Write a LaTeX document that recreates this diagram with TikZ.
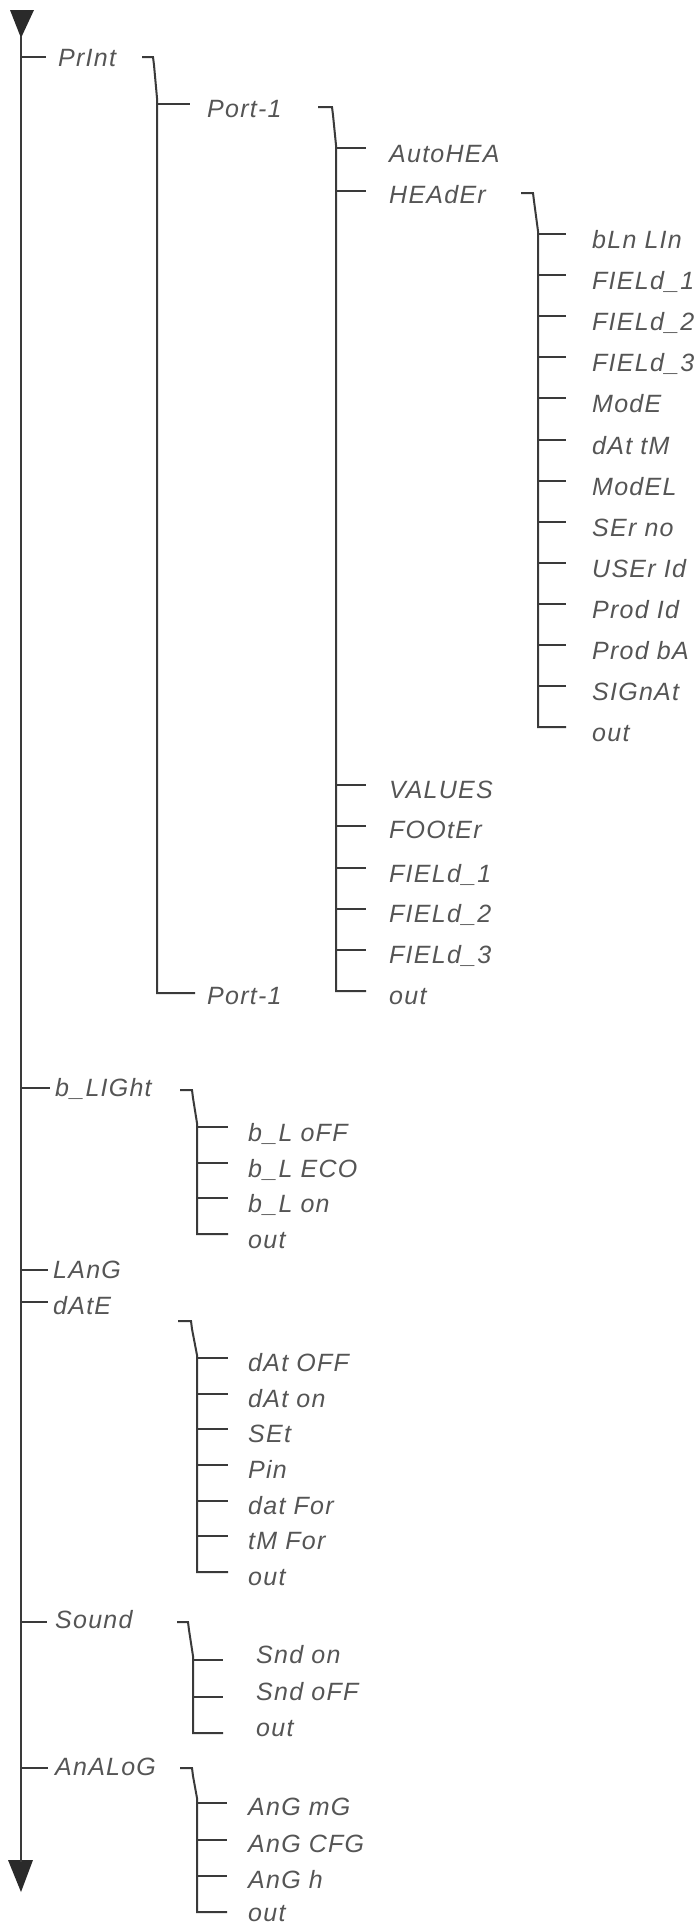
\documentclass[tikz,border=0pt]{standalone}
\usepackage{fontspec}
\setmainfont{Liberation Sans}[LetterSpace=5]
\definecolor{lncol}{HTML}{3A3A3A}
\definecolor{txcol}{HTML}{555555}
\definecolor{tipcol}{HTML}{2A2A2A}
\tikzset{
  lbl/.style={anchor=base west, inner sep=0pt, text=txcol, font=\fontsize{25}{30}\selectfont\itshape},
  wire/.style={draw=lncol, line width=2pt},
  tipshape/.style={fill=tipcol, draw=none},
}
% name, x of vertical, x of branch end, x of text, y of branch, baseline offset, text
\newcommand\Item[7]{%
  \coordinate (#1j) at (#2,#5);
  \coordinate (#1e) at (#3,#5);
  \node[lbl] (#1) at (#4,#5+#6) {#7};
  \draw[wire] (#1j) -- (#1e);}
\begin{document}
\begin{tikzpicture}[x=1pt,y=-1pt]
\useasboundingbox (0,0) rectangle (695,1923);
% trunk with arrow tips
\coordinate (ttop) at (21,36);
\coordinate (tbot) at (21,1862);
\fill[tipshape] (10,10) -- (34,10) -- (21,38) -- cycle;
\fill[tipshape] (8,1860) -- (33,1860) -- (21,1892) -- cycle;
\draw[wire] (ttop) -- (tbot);

% level 1
\Item{print}{21}{46}{58}{57}{9}{PrInt}
\Item{blight}{21}{50}{55}{1088}{8}{b\_LIGht}
\Item{lang}{21}{48}{53}{1270}{8}{LAnG}
\Item{date}{21}{48}{53}{1302}{12}{dAtE}
\Item{sound}{21}{47}{55}{1622}{6}{Sound}
\Item{analog}{21}{48}{55}{1768}{7}{AnALoG}

% PrInt bracket
\coordinate (printb) at (142,57);
\draw[wire] (printb) -- (153,57) -- (154,65) -- (157,98) -- (157,993) -- (195,993);
\Item{porta}{157}{190}{207}{104}{13}{Port-1}
\Item{portb}{157}{195}{207}{993}{11}{Port-1}

% Port-1 bracket
\coordinate (portab) at (318,107);
\draw[wire] (portab) -- (332,107) -- (333,115) -- (336,145) -- (336,991) -- (366,991);
\Item{autohea}{336}{366}{389}{148}{14}{AutoHEA}
\Item{header}{336}{366}{389}{191}{12}{HEAdEr}
\Item{values}{336}{366}{389}{785}{13}{VALUES}
\Item{footer}{336}{366}{389}{826}{12}{FOOtEr}
\Item{pfa}{336}{366}{389}{868}{14}{FIELd\_1}
\Item{pfb}{336}{366}{389}{909}{13}{FIELd\_2}
\Item{pfc}{336}{366}{389}{950}{13}{FIELd\_3}
\Item{pout}{336}{366}{389}{991}{13}{out}

% HEAdEr bracket
\coordinate (headerb) at (521,193);
\draw[wire] (headerb) -- (533,193) -- (534,201) -- (538,231) -- (538,727) -- (566,727);
\foreach \t [count=\i from 0] in {bLn LIn, FIELd\_1, FIELd\_2, FIELd\_3, ModE, dAt tM, ModEL, SEr no, USEr Id, Prod Id, Prod bA, SIGnAt, out}{
  \pgfmathtruncatemacro\yy{234+41.1*\i+0.5}
  \Item{h\i}{538}{566}{592}{\yy}{14}{\t}
}

% b_LIGht bracket
\coordinate (blightb) at (180,1090);
\draw[wire] (blightb) -- (192,1090) -- (193,1098) -- (197,1123) -- (197,1234) -- (228,1234);
\foreach \t [count=\i from 0] in {b\_L oFF, b\_L ECO, b\_L on, out}{
  \pgfmathtruncatemacro\yy{1127+35.7*\i+0.5}
  \Item{b\i}{197}{228}{248}{\yy}{14}{\t}
}

% dAtE bracket
\coordinate (dateb) at (178,1321);
\draw[wire] (dateb) -- (191,1321) -- (192,1329) -- (197,1355) -- (197,1572) -- (228,1572);
\foreach \t [count=\i from 0] in {dAt OFF, dAt on, SEt, Pin, dat For, tM For, out}{
  \pgfmathtruncatemacro\yy{1358+35.67*\i+0.5}
  \Item{d\i}{197}{228}{248}{\yy}{13}{\t}
}

% Sound bracket
\coordinate (soundb) at (177,1622);
\draw[wire] (soundb) -- (188,1622) -- (189,1630) -- (193,1656) -- (193,1733) -- (223,1733);
\foreach \t [count=\i from 0] in {Snd on, Snd oFF, out}{
  \pgfmathtruncatemacro\yy{1660+36.5*\i+0.5}
  \Item{s\i}{193}{223}{256}{\yy}{3}{\t}
}

% AnALoG bracket
\coordinate (analogb) at (180,1768);
\draw[wire] (analogb) -- (192,1768) -- (193,1776) -- (197,1798) -- (197,1912) -- (227,1912);
\Item{a0}{197}{227}{248}{1803}{12}{AnG mG}
\Item{a1}{197}{227}{248}{1840}{12}{AnG CFG}
\Item{a2}{197}{227}{248}{1876}{12}{AnG h}
\Item{a3}{197}{227}{248}{1912}{9}{out}
\end{tikzpicture}
\end{document}
